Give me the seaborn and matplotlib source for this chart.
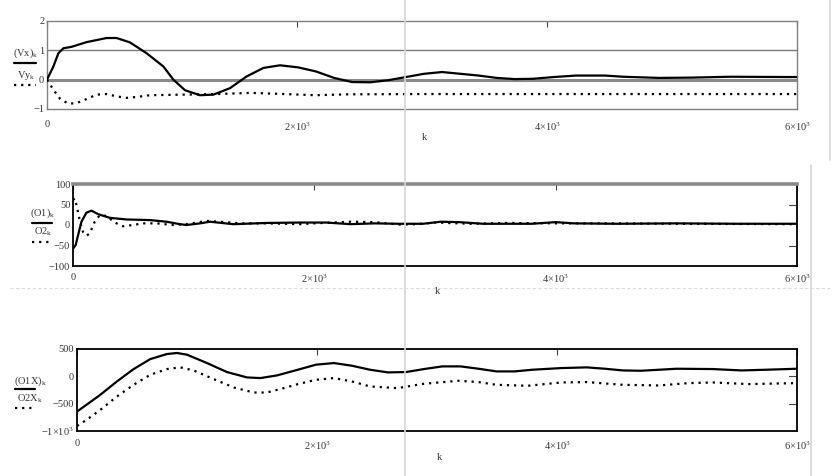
import matplotlib
matplotlib.use("Agg")
import matplotlib.pyplot as plt
from matplotlib.lines import Line2D
import seaborn as sns

# --- data ---
# panel 1: (Vx)_k solid, Vy_k dotted
vx_k = [0, 51, 91, 131, 197, 317, 477, 557, 664, 797, 931, 1011, 1104, 1224, 1331, 1464,
        1597, 1731, 1864, 2008, 2152, 2296, 2440, 2584, 2728, 2872, 3016, 3160, 3308, 3453,
        3597, 3741, 3886, 4056, 4232, 4464, 4608, 4896, 5157, 5472, 5904, 6000]
vx = [0, 0.45, 0.9, 1.07, 1.12, 1.28, 1.42, 1.42, 1.27, 0.9, 0.45, 0.0, -0.36, -0.53, -0.51, -0.29,
      0.11, 0.40, 0.49, 0.42, 0.28, 0.06, -0.08, -0.09, -0.02, 0.09, 0.20, 0.26, 0.20, 0.14,
      0.06, 0.02, 0.03, 0.09, 0.14, 0.14, 0.10, 0.06, 0.07, 0.10, 0.09, 0.09]
vy_k = [0, 51, 104, 171, 237, 317, 397, 477, 557, 637, 717, 824, 1091, 1357, 1624, 1837,
        2024, 2150, 2400, 3000, 4000, 5000, 6000]
vy = [0, -0.34, -0.65, -0.82, -0.80, -0.66, -0.51, -0.49, -0.57, -0.62, -0.59, -0.53, -0.51,
      -0.49, -0.45, -0.48, -0.51, -0.53, -0.50, -0.49, -0.49, -0.49, -0.49]

# panel 2: (O1)_k solid, O2_k dotted
o1_k = [0, 22, 42, 70, 111, 153, 208, 305, 443, 637, 775, 886, 941, 1052, 1135, 1328, 1605,
        1882, 2100, 2300, 2500, 2700, 2900, 3050, 3200, 3400, 3800, 4000, 4150, 4500, 5000,
        5500, 6000]
o1 = [-57.6, -49, -25, 8, 30, 35, 26.5, 17.5, 13.5, 12, 8, 2, 0, 4, 8, 2, 5,
      6, 6, 2, 4, 3, 3, 8, 7, 3, 3, 7, 4, 3, 4, 3, 3]
o2_k = [0, 14, 33, 55, 83, 111, 138, 180, 222, 277, 346, 415, 498, 581, 692, 831, 941, 1107,
        1218, 1384, 1605, 1882, 2000, 2300, 2500, 2700, 2850, 3000, 3300, 3600, 4000, 4400,
        5000, 6000]
o2 = [61, 65, 44, 12, -17, -26, -21, 8, 24, 22, 6, -3, 0, 4, 4, 0, 2, 10,
      8, 4, 4, 2, 4, 8, 7, 1, 2, 6, 3, 5, 4, 4, 3, 2]

# panel 3: (O1X)_k solid, O2X_k dotted
o1x_k = [0, 78, 194, 333, 472, 611, 750, 833, 917, 1083, 1250, 1417, 1528, 1667, 1841, 1991,
         2141, 2291, 2441, 2591, 2741, 2891, 3045, 3195, 3346, 3496, 3646, 3796, 4037, 4248,
         4398, 4548, 4699, 4998, 5299, 5539, 5748, 6000]
o1x = [-645, -522, -338, -93, 133, 316, 408, 427, 396, 243, 78, -20, -32, 17, 121, 213,
       243, 194, 121, 72, 78, 133, 182, 182, 139, 90, 90, 121, 151, 164,
       139, 108, 102, 139, 133, 108, 121, 139]
o2x_k = [0, 78, 194, 333, 472, 611, 750, 861, 972, 1139, 1306, 1472, 1583, 1722, 1841, 1991,
         2141, 2291, 2441, 2670, 2891, 3180, 3346, 3496, 3755, 4037, 4248, 4548, 4848, 5098,
         5299, 5599, 6000]
o2x = [-908, -798, -614, -369, -155, 29, 133, 164, 108, -51, -204, -296, -296, -216, -142, -63,
       -32, -93, -185, -216, -136, -81, -105, -155, -173, -112, -105, -155, -167, -124,
       -112, -142, -124]

x_ticks = [0, 2000, 4000, 6000]
x_labels = ["0", "2×10$^{3}$", "4×10$^{3}$", "6×10$^{3}$"]

sns.set_style("white")
plt.rcParams['font.family'] = ['Liberation Serif', 'DejaVu Serif']
plt.rcParams['mathtext.fontset'] = 'custom'
plt.rcParams['mathtext.rm'] = 'Liberation Serif'
plt.rcParams['mathtext.it'] = 'Liberation Serif:italic'

W, H = 840, 476
fig = plt.figure(figsize=(W / 100, H / 100), dpi=100)


def box(left, top, right, bottom):
    return [left / W, 1 - bottom / H, (right - left) / W, (bottom - top) / H]


def fx(x):
    return x / W


def fy(y):
    return 1 - y / H


text_col = '#333333'

# light screenshot artefacts
for seg in [([405, 405], [0, 476]), ([830, 830], [0, 160]), ([811, 811], [165, 476])]:
    fig.add_artist(Line2D([fx(v) for v in seg[0]], [fy(v) for v in seg[1]],
                          color='#d6d6d6', lw=1.2))
fig.add_artist(Line2D([fx(10), fx(832)], [fy(288), fy(288)], color='#dddddd', lw=0.8,
                      linestyle=(0, (3, 2))))

panels = [
    dict(rect=box(47, 21, 797, 109), xs=(vx_k, vy_k), ys=(vx, vy), ylim=(-1, 2),
         yticks=[-1, 0, 1, 2], ylabels=["−1", "0", "1", "2"], right=[],
         lab1="(Vx)$_{\\mathregular{k}}$", lab2="Vy$_{\\mathregular{k}}$",
         leg=(26, 53, 63, 76, 85, 14, 36), klab=(424, 137), tickpad=8),
    dict(rect=box(73, 184, 797, 266), xs=(o1_k, o2_k), ys=(o1, o2), ylim=(-100, 100),
         yticks=[-100, -50, 0, 50, 100], ylabels=["−100", "−50", "0", "50", "100"],
         right=[-50, 50],
         lab1="(O1)$_{\\mathregular{k}}$", lab2="O2$_{\\mathregular{k}}$",
         leg=(43, 213, 223, 232, 242, 32, 52), klab=(437, 292), tickpad=5),
    dict(rect=box(77, 349, 797, 431), xs=(o1x_k, o2x_k), ys=(o1x, o2x), ylim=(-1000, 500),
         yticks=[-1000, -500, 0, 500], ylabels=["−1×10$^{3}$", "−500", "0", "500"],
         right=[-500, 0],
         lab1="(O1X)$_{\\mathregular{k}}$", lab2="O2X$_{\\mathregular{k}}$",
         leg=(30, 381, 389, 399, 408, 15, 35), klab=(439, 457), tickpad=6),
]

for i, p in enumerate(panels):
    ax = fig.add_axes(p['rect'])
    if i == 0:
        ax.axhline(1, color='#7a7a7a', lw=1.0, zorder=1)
        ax.axhline(0, color='#8a8a8a', lw=2.2, zorder=1)
    sns.lineplot(x=p['xs'][0], y=p['ys'][0], ax=ax, color='black', lw=1.6, zorder=3)
    sns.lineplot(x=p['xs'][1], y=p['ys'][1], ax=ax, color='black', lw=1.6,
                 linestyle=(0, (1, 2.2)), zorder=3)
    ax.set_xlim(0, 6000)
    ax.set_ylim(*p['ylim'])
    ax.set_xticks(x_ticks)
    ax.set_xticklabels(x_labels)
    ax.set_yticks(p['yticks'])
    ax.set_yticklabels(p['ylabels'])
    ax.tick_params(axis='x', direction='in', length=4, width=0.8, top=True,
                   labelsize=7.5, labelcolor=text_col, pad=p['tickpad'], color='#444444')
    ax.tick_params(axis='y', direction='in', length=0, labelsize=7.5,
                   labelcolor=text_col, pad=2)
    for v in p['right']:
        ax.plot([5930, 6000], [v, v], color='#444444', lw=0.8, zorder=2)
    ax.set_xlabel("")
    ax.set_ylabel("")
    if i == 0:
        for s in ax.spines.values():
            s.set_color('#808080')
            s.set_linewidth(1.0)
    else:
        for s in ax.spines.values():
            s.set_color('black')
            s.set_linewidth(1.3)
        if i == 1:
            ax.spines['top'].set_color('#8a8a8a')
            ax.spines['top'].set_linewidth(2.6)

    # "k" axis label
    fig.text(fx(p['klab'][0]), fy(p['klab'][1]), "k", ha='center', va='center',
             fontsize=7.5, color=text_col)

    # stacked y-labels with line samples
    cx, t1, l1, t2, l2, lx0, lx1 = p['leg']
    fig.text(fx(cx), fy(t1), p['lab1'], ha='center', va='center', fontsize=7.5,
             color=text_col)
    fig.add_artist(Line2D([fx(lx0), fx(lx1)], [fy(l1), fy(l1)], color='black', lw=1.6))
    fig.text(fx(cx), fy(t2), p['lab2'], ha='center', va='center', fontsize=7.5,
             color=text_col)
    fig.add_artist(Line2D([fx(lx0), fx(lx1)], [fy(l2), fy(l2)], color='black', lw=1.6,
                          linestyle=(0, (1, 2.2))))

fig.savefig("out.png", dpi=100)
